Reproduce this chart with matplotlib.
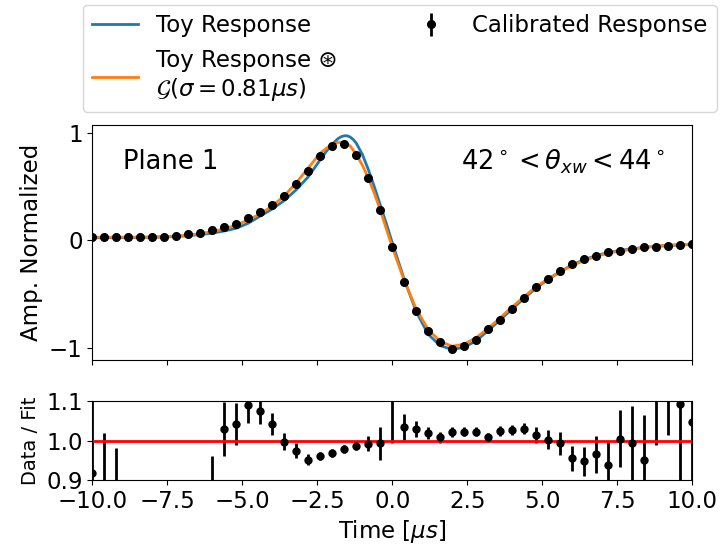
import numpy as np
import matplotlib
matplotlib.use("Agg")
import matplotlib.pyplot as plt

# ---- data ----
data_t = [-10.0, -9.6, -9.2, -8.8, -8.4, -8.0, -7.6, -7.2, -6.8, -6.4, -6.0, -5.6, -5.2,
          -4.8, -4.4, -4.0, -3.6, -3.2, -2.8, -2.4, -2.0, -1.6, -1.2, -0.8, -0.4, 0.0,
          0.4, 0.8, 1.2, 1.6, 2.0, 2.4, 2.8, 3.2, 3.6, 4.0, 4.4, 4.8, 5.2, 5.6, 6.0,
          6.4, 6.8, 7.2, 7.6, 8.0, 8.4, 8.8, 9.2, 9.6, 10.0]
data_v = [0.031, 0.030, 0.030, 0.030, 0.030, 0.028, 0.030, 0.043, 0.056, 0.068, 0.093,
          0.127, 0.157, 0.207, 0.265, 0.333, 0.414, 0.525, 0.648, 0.787, 0.880, 0.892,
          0.793, 0.577, 0.281, -0.065, -0.386, -0.654, -0.842, -0.944, -1.003, -0.981,
          -0.919, -0.820, -0.734, -0.632, -0.537, -0.435, -0.355, -0.287, -0.222, -0.176,
          -0.142, -0.111, -0.098, -0.080, -0.061, -0.058, -0.049, -0.040, -0.037]

ratio_v = [0.919, 0.80, 0.78, 0.60, 0.55, 0.50, 0.60, 0.70, 0.72, 0.75, 0.85, 1.029, 1.042,
           1.089, 1.076, 1.041, 0.997, 0.974, 0.951, 0.961, 0.969, 0.979, 0.987, 0.992,
           0.993, 1.25, 1.034, 1.029, 1.019, 1.008, 1.022, 1.023, 1.023, 1.008, 1.024,
           1.027, 1.030, 1.015, 1.002, 0.993, 0.955, 0.947, 0.965, 0.938, 1.005, 0.993,
           0.951, 1.14, 1.16, 1.092, 1.046]
ratio_e = [0.20, 0.22, 0.20, 0.20, 0.20, 0.20, 0.20, 0.15, 0.12, 0.10, 0.112, 0.068, 0.053,
           0.045, 0.035, 0.028, 0.022, 0.019, 0.014, 0.011, 0.010, 0.010, 0.010, 0.019,
           0.042, 0.255, 0.033, 0.020, 0.015, 0.013, 0.012, 0.012, 0.012, 0.012, 0.012,
           0.013, 0.014, 0.020, 0.024, 0.030, 0.031, 0.036, 0.046, 0.058, 0.072, 0.095,
           0.114, 0.15, 0.147, 0.25, 0.20]

toy_t = [-10.0, -9.2, -8.4, -7.6, -7.0, -6.4, -6.0, -5.6, -5.2, -4.8, -4.4, -4.0, -3.6,
         -3.2, -2.8, -2.4, -2.2, -2.0, -1.9, -1.8, -1.7, -1.6, -1.5, -1.4, -1.3, -1.2,
         -1.0, -0.8, -0.6, -0.4, -0.2, 0.0, 0.4, 0.8, 1.2, 1.6, 2.0, 2.4, 2.8, 3.2, 3.6,
         4.0, 4.4, 4.8, 5.2, 5.6, 6.0, 6.4, 6.8, 7.2, 7.6, 8.0, 8.4, 8.8, 9.2, 9.6, 10.0]
toy_v = [0.025, 0.026, 0.028, 0.032, 0.040, 0.055, 0.068, 0.088, 0.113, 0.160, 0.226,
         0.292, 0.370, 0.470, 0.590, 0.748, 0.825, 0.890, 0.920, 0.945, 0.962, 0.970,
         0.970, 0.958, 0.936, 0.902, 0.800, 0.660, 0.500, 0.330, 0.160, -0.020, -0.360,
         -0.660, -0.870, -0.975, -1.010, -0.990, -0.930, -0.835, -0.735, -0.635, -0.535,
         -0.440, -0.360, -0.290, -0.225, -0.178, -0.140, -0.112, -0.092, -0.077, -0.064,
         -0.055, -0.048, -0.042, -0.037]

conv_t = [-10.0, -9.2, -8.4, -7.6, -7.2, -6.8, -6.4, -6.0, -5.6, -5.2, -4.8, -4.4, -4.0,
          -3.6, -3.2, -2.8, -2.4, -2.0, -1.8, -1.6, -1.4, -1.2, -1.0, -0.8, -0.6, -0.4,
          -0.2, 0.0, 0.4, 0.8, 1.2, 1.6, 2.0, 2.4, 2.8, 3.2, 3.6, 4.0, 4.4, 4.8, 5.2, 5.6,
          6.0, 6.4, 6.8, 7.2, 7.6, 8.0, 8.4, 8.8, 9.2, 9.6, 10.0]
conv_v = [0.030, 0.030, 0.031, 0.035, 0.041, 0.050, 0.063, 0.082, 0.107, 0.142, 0.190,
          0.246, 0.320, 0.413, 0.535, 0.672, 0.810, 0.895, 0.908, 0.908, 0.875, 0.800,
          0.700, 0.580, 0.440, 0.283, 0.110, -0.060, -0.373, -0.636, -0.826, -0.936,
          -0.981, -0.960, -0.900, -0.814, -0.717, -0.615, -0.521, -0.428, -0.354, -0.289,
          -0.232, -0.186, -0.147, -0.118, -0.097, -0.081, -0.064, -0.051, -0.043, -0.037,
          -0.035]

xticks = [-10.0, -7.5, -5.0, -2.5, 0.0, 2.5, 5.0, 7.5, 10.0]

# ---- figure ----
fig = plt.figure(figsize=(7.21, 5.44), dpi=100)
ax1 = fig.add_axes([0.128, 0.338, 0.832, 0.432])
ax2 = fig.add_axes([0.128, 0.1176, 0.832, 0.145])

top_err = np.abs(np.array(data_v) / np.array(ratio_v)) * np.array(ratio_e) * 0.1

l1, = ax1.plot(toy_t, toy_v, color="#1f77b4", lw=2.0, label="Toy Response")
l2, = ax1.plot(conv_t, conv_v, color="#ff7f0e", lw=2.0,
               label="Toy Response \u229b\n$\\mathcal{G}(\\sigma = 0.81\\mu s)$")
eb = ax1.errorbar(data_t, data_v, yerr=top_err, fmt="o", color="black", ms=5.5,
                  elinewidth=2, label="Calibrated Response")
ax1.set_xlim(-10, 10)
ax1.set_yticks([-1, 0, 1])
ax1.set_xticks(xticks)
ax1.set_xticklabels([])
ax1.set_ylabel("Amp. Normalized", fontsize=16.5)
ax1.tick_params(labelsize=16.5)
ax1.text(0.051, 0.845, "Plane 1", transform=ax1.transAxes, fontsize=18.5,
         ha="left", va="center")
ax1.text(0.955, 0.845, "$42^\\circ < \\theta_{xw} < 44^\\circ$", transform=ax1.transAxes,
         fontsize=18.5, ha="right", va="center")

ax2.errorbar(data_t, ratio_v, yerr=ratio_e, fmt="o", color="black", ms=5,
             elinewidth=2)
ax2.axhline(1.0, color="red", lw=2)
ax2.set_xlim(-10, 10)
ax2.set_ylim(0.9, 1.1)
ax2.set_yticks([0.9, 1.0, 1.1])
ax2.set_xticks(xticks)
ax2.tick_params(labelsize=16.5)
ax2.set_ylabel("Data / Fit", fontsize=14)
ax2.set_xlabel("Time [$\\mu s$]", fontsize=16.5)

fig.legend(handles=[l1, l2, eb], ncol=2, fontsize=16.5, loc="upper left",
           bbox_to_anchor=(0.115, 0.80, 0.879, 0.191), mode="expand",
           borderaxespad=0.0)

fig.savefig("out.png", dpi=100)
